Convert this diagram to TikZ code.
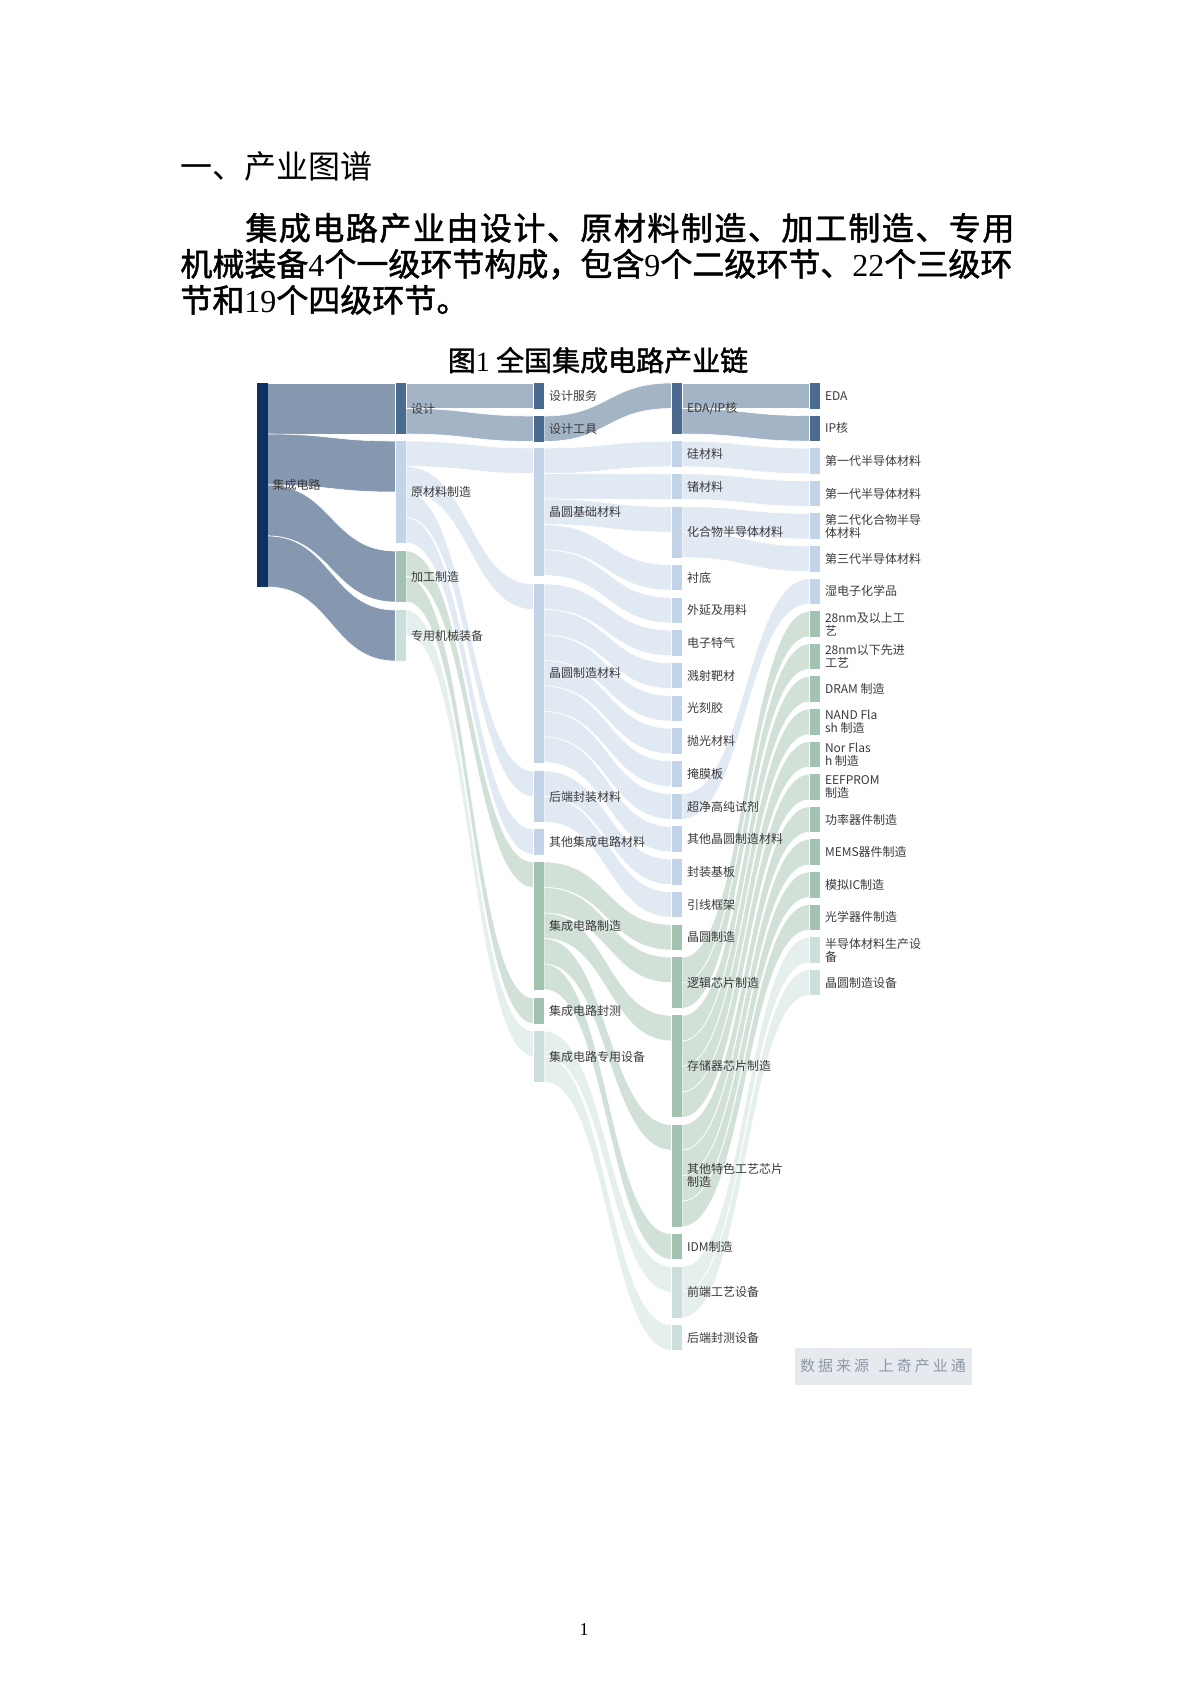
\documentclass[tikz,border=0pt]{standalone}
\usepackage{fontspec}
\setmainfont{Liberation Serif}
\newfontfamily\cjk{Noto Sans CJK SC}
\newfontfamily\cjkb[FakeBold=1.5]{Noto Sans CJK SC}
\usetikzlibrary{calc,backgrounds}

\definecolor{cIC}{HTML}{0D3161}
\definecolor{cDes}{HTML}{4A6A90}
\definecolor{cMat}{HTML}{C4D4E8}
\definecolor{cProc}{HTML}{A3C3B1}
\definecolor{cEq}{HTML}{CCDFDD}
\definecolor{labtxt}{HTML}{3A3A3A}
\definecolor{srcbg}{HTML}{E6EAEF}
\definecolor{srctxt}{HTML}{8D99A6}

\tikzset{
  bar/.style={fill=#1, inner sep=0pt, outer sep=0pt, minimum width=5.25pt, anchor=north west},
  lab/.style={font=\cjk\fontsize{6}{6.5}\selectfont, text=labtxt, inner sep=0pt, align=left},
  flow/.style={fill=#1, fill opacity=.5, draw=white, line width=.3pt},
  body/.style={font=\cjkb\fontsize{16}{16}\selectfont, inner sep=0pt, anchor=base west}
}

% band out of #1 (#2 units below its top) into the top of #3, #4 units wide
\newcommand{\band}[5]{%
  \path (#1.north east) ++(0,#2*25.5) coordinate (s1) ++(0,#4*25.5) coordinate (s2)
        (#3.north west) coordinate (t1) ++(0,#4*25.5) coordinate (t2)
        ($(s1)!.5!(t1)$) coordinate (m);
  \path[flow=#5] (s1) .. controls (m |- s1) and (m |- t1) .. (t1) -- (t2)
        .. controls (m |- t2) and (m |- s2) .. (s2) -- cycle;
}
\newcommand{\dg}[1]{{\rmfamily #1}}
\def\spreadline#1#2{\hbox to #1{\spreadchar#2\relax\unskip}}
\def\spreadchar#1{\ifx#1\relax\else#1\hfil\expandafter\spreadchar\fi}

\begin{document}
\begin{tikzpicture}[x=.5pt, y=-.5pt, label distance=2.3pt]
\useasboundingbox (0,0) rectangle (1190,1683);

\node[font=\cjk\fontsize{16}{16}\selectfont, inner sep=0pt, anchor=base west] (head) at (180,178) {一、产业图谱};
\node[body] (line1) at (245,240) {\spreadline{384.5pt}{集成电路产业由设计、原材料制造、加工制造、专用}};
\node[body] (line2) at (180,276) {机械装备\dg{4}个一级环节构成，包含\dg{9}个二级环节、\dg{22}个三级环};
\node[body] (line3) at (180,312) {节和\dg{19}个四级环节。};
\node[font=\cjkb\fontsize{14}{14}\selectfont, inner sep=0pt, anchor=base] (title) at (598,371) {图\dg{1} 全国集成电路产业链};

% levels
\node[bar=cIC, minimum height=8*12.75pt, label={[lab]right:集成电路}] (ic) at (257,383) {};
\foreach \nm/\yy/\hh/\cc/\txt in {des/383/2/cDes/设计, mat/441/4/cMat/原材料制造,
    proc/551/2/cProc/加工制造, equip/610/2/cEq/专用机械装备}
  \node[bar=\cc, minimum height=\hh*12.75pt, label={[lab]right:\txt}] (\nm) at (395.5,\yy) {};
\foreach \nm/\yy/\hh/\cc/\txt in {desserv/383/1/cDes/设计服务, destool/416/1/cDes/设计工具,
    wbase/448/5/cMat/晶圆基础材料, wmfg/584/7/cMat/晶圆制造材料, pkgmat/771/2/cMat/后端封装材料,
    othmat/829/1/cMat/其他集成电路材料, icmfg/862/5/cProc/集成电路制造,
    ictest/998/1/cProc/集成电路封测, icequip/1031/2/cEq/集成电路专用设备}
  \node[bar=\cc, minimum height=\hh*12.75pt, label={[lab]right:\txt}] (\nm) at (533.5,\yy) {};
\foreach \nm/\yy/\hh/\cc/\txt in {edaip/383/2/cDes/{EDA/IP核}, si/441.2/1/cMat/硅材料,
    ge/473.9/1/cMat/锗材料, comp/506.6/2/cMat/化合物半导体材料, sub/564.8/1/cMat/衬底,
    epi/597.5/1/cMat/外延及用料, gas/630.2/1/cMat/电子特气, target/662.9/1/cMat/溅射靶材,
    resist/695.6/1/cMat/光刻胶, polish/728.3/1/cMat/抛光材料, mask/761/1/cMat/掩膜板,
    chem/793.7/1/cMat/超净高纯试剂, othwafer/826.4/1/cMat/其他晶圆制造材料,
    substrate/859.1/1/cMat/封装基板, frame/891.8/1/cMat/引线框架, wafer/924.5/1/cProc/晶圆制造,
    logic/957.2/2/cProc/逻辑芯片制造, memory/1015.4/4/cProc/存储器芯片制造,
    special/1124.6/4/cProc/{其他特色工艺芯片\\制造}, idm/1233.8/1/cProc/IDM制造,
    front/1266.5/2/cEq/前端工艺设备, back/1324.7/1/cEq/后端封测设备}
  \node[bar=\cc, minimum height=\hh*12.75pt, label={[lab]right:\txt}] (\nm) at (671.5,\yy) {};
\foreach \nm/\cc/\txt [count=\i from 0] in {eda/cDes/EDA, ip/cDes/IP核,
    gen1a/cMat/第一代半导体材料, gen1b/cMat/第一代半导体材料, gen2/cMat/{第二代化合物半导\\体材料},
    gen3/cMat/第三代半导体材料, wetchem/cMat/湿电子化学品, n28up/cProc/{28nm及以上工\\艺},
    n28down/cProc/{28nm以下先进\\工艺}, dram/cProc/DRAM 制造, nand/cProc/{NAND Fla\\sh 制造},
    nor/cProc/{Nor Flas\\h 制造}, eeprom/cProc/{EEFPROM\\制造}, power/cProc/功率器件制造,
    mems/cProc/MEMS器件制造, analog/cProc/模拟IC制造, optic/cProc/光学器件制造,
    semieq/cEq/{半导体材料生产设\\备}, wafereq/cEq/晶圆制造设备}
  \node[bar=\cc, minimum height=12.75pt, label={[lab]right:\txt}] (\nm) at (809.5,{383+32.6*\i}) {};

% bands
\begin{pgfonlayer}{background}
  \foreach \dst [count=\i from 0] in {des,mat,proc,equip}
    \band{ic}{2*\i}{\dst}{2}{cIC};
  \foreach \src/\so/\dst/\cc in {des/0/desserv/cDes, des/1/destool/cDes,
      mat/0/wbase/cMat, mat/1/wmfg/cMat, mat/2/pkgmat/cMat, mat/3/othmat/cMat,
      proc/0/icmfg/cProc, proc/1/ictest/cProc, equip/0/icequip/cEq,
      destool/0/edaip/cDes,
      wbase/0/si/cMat, wbase/1/ge/cMat, wbase/2/comp/cMat, wbase/3/sub/cMat, wbase/4/epi/cMat,
      wmfg/0/gas/cMat, wmfg/1/target/cMat, wmfg/2/resist/cMat, wmfg/3/polish/cMat,
      wmfg/4/mask/cMat, wmfg/5/chem/cMat, wmfg/6/othwafer/cMat,
      pkgmat/0/substrate/cMat, pkgmat/1/frame/cMat,
      icmfg/0/wafer/cProc, icmfg/1/logic/cProc, icmfg/2/memory/cProc, icmfg/3/special/cProc,
      icmfg/4/idm/cProc, icequip/0/front/cEq, icequip/1/back/cEq,
      edaip/0/eda/cDes, edaip/1/ip/cDes,
      si/0/gen1a/cMat, ge/0/gen1b/cMat, comp/0/gen2/cMat, comp/1/gen3/cMat, chem/0/wetchem/cMat,
      logic/0/n28up/cProc, logic/1/n28down/cProc,
      memory/0/dram/cProc, memory/1/nand/cProc, memory/2/nor/cProc, memory/3/eeprom/cProc,
      special/0/power/cProc, special/1/mems/cProc, special/2/analog/cProc, special/3/optic/cProc,
      front/0/semieq/cEq, front/1/wafereq/cEq}
    \band{\src}{\so}{\dst}{1}{\cc};
\end{pgfonlayer}

\node[fill=srcbg, text=srctxt, font=\cjk\fontsize{7.5}{7.5}\selectfont, minimum width=88.5pt,
  minimum height=18.5pt, inner sep=0pt] (source) at (883,1366) {\spreadline{83pt}{数据来源~上奇产业通}};
\node[font=\fontsize{9}{9}\selectfont, inner sep=0pt] (pageno) at (584,1630) {1};
\end{tikzpicture}
\end{document}
